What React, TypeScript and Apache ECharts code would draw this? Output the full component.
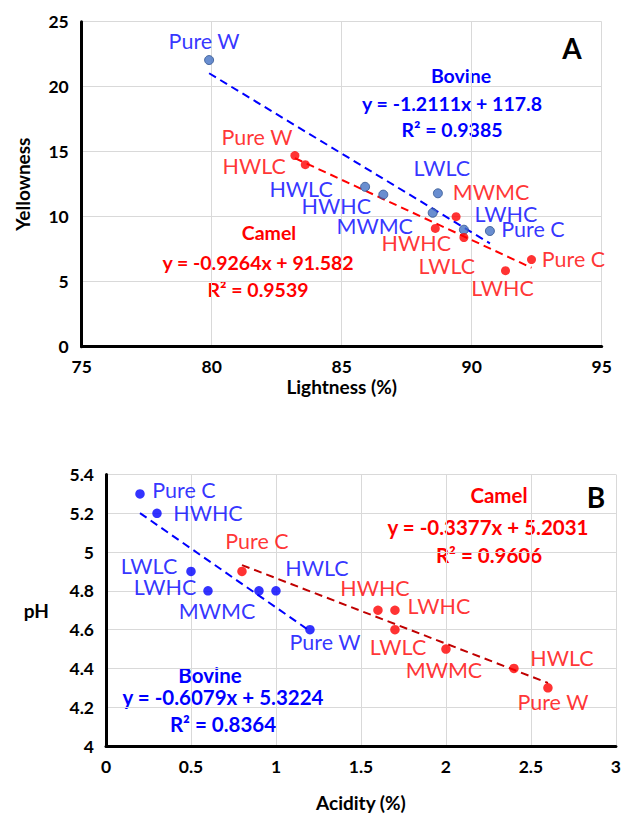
import React, { useEffect, useRef } from "react";
import * as echarts from "echarts";

// ---------- Data: chart A (Lightness vs Yellowness) ----------
const bovineANames = ["Pure W", "HWLC", "HWHC", "LWLC", "MWMC", "LWHC", "Pure C"];
const bovineAX = [79.9, 85.9, 86.6, 88.7, 88.5, 89.7, 90.7];
const bovineAY = [22.05, 12.3, 11.7, 11.8, 10.3, 9.0, 8.9];
const camelANames = ["Pure W", "HWLC", "MWMC", "HWHC", "LWLC", "Pure C", "LWHC"];
const camelAX = [83.2, 83.6, 89.4, 88.6, 89.7, 92.3, 91.3];
const camelAY = [14.7, 14.0, 10.0, 9.1, 8.4, 6.7, 5.85];
const trendA = { bovine: [-1.2111, 117.8], camel: [-0.9264, 91.582] };
const r2A = { bovine: 0.9385, camel: 0.9539 };

// ---------- Data: chart B (Acidity vs pH) ----------
const bovineBNames = ["Pure C", "HWHC", "LWLC", "LWHC", "MWMC", "HWLC", "Pure W"];
const bovineBX = [0.2, 0.3, 0.5, 0.6, 0.9, 1.0, 1.2];
const bovineBY = [5.3, 5.2, 4.9, 4.8, 4.8, 4.8, 4.6];
const camelBNames = ["Pure C", "HWHC", "LWHC", "LWLC", "MWMC", "HWLC", "Pure W"];
const camelBX = [0.8, 1.6, 1.7, 1.7, 2.0, 2.4, 2.6];
const camelBY = [4.9, 4.7, 4.7, 4.6, 4.5, 4.4, 4.3];
const trendB = { bovine: [-0.6079, 5.3224], camel: [-0.3377, 5.2031] };
const r2B = { bovine: 0.8364, camel: 0.9606 };

// ---------- Layout (label offsets in px, relative to the point) ----------
const offBovineA = [[-5, -19], [-64, 2], [-47, 11], [4, -25], [-58, 13], [42, -16], [43, -2]];
const offCamelA = [[-38, -19], [-51, 1], [35, -25], [-19, 15], [-17, 28], [42, -1], [-3, 17]];
const offBovineB = [[44, -4], [51, 0], [-42, -5], [-43, -4], [-42, 20], [41, -23], [15, 12]];
const offCamelB = [[15, -30], [-3, -22], [44, -4], [3, 17], [-2, 21], [48, -10], [5, 14]];

const BLUE = "#0000FF";
const RED = "#FF0000";
const FONT = "Lato";

function eqText(t: number[]) {
  const s = t[0];
  const b = t[1];
  return `y = ${s}x ${b >= 0 ? "+" : "-"} ${Math.abs(b)}`;
}

function pts(names: string[], xs: number[], ys: number[], offs: number[][]) {
  return names.map((n, i) => ({
    name: n,
    value: [xs[i], ys[i]],
    label: { offset: offs[i] },
  }));
}

function trend(xs: number[], t: number[]) {
  const lo = Math.min(...xs);
  const hi = Math.max(...xs);
  return [
    [lo, t[0] * lo + t[1]],
    [hi, t[0] * hi + t[1]],
  ];
}

export default function App() {
  const ref = useRef<HTMLDivElement>(null);
  useEffect(() => {
    if (!ref.current) return;
    const chart = echarts.init(ref.current, undefined, { renderer: "svg" });

    const tickLabel = { fontFamily: FONT, fontWeight: "bold" as const, fontSize: 17.5, color: "#000" };
    const axisLine = { show: true, lineStyle: { color: "#000", width: 3 } };
    const split = { show: true, lineStyle: { color: "#d9d9d9", width: 1 } };
    const nameStyle = { fontFamily: FONT, fontWeight: "bold" as const, fontSize: 19, color: "#000" };

    const scatterLabel = (color: string) => ({
      show: true,
      position: "inside" as const,
      formatter: "{b}",
      color,
      fontFamily: FONT,
      fontSize: 21.5,
      align: "center" as const,
      verticalAlign: "middle" as const,
    });

    const annot = (text: string, x: number, y: number, color: string, size = 19.5) => ({
      type: "text",
      x,
      y,
      style: {
        text,
        fill: color,
        font: `bold ${size}px ${FONT}`,
        textAlign: "center",
        textVerticalAlign: "middle",
        align: "center",
        verticalAlign: "middle",
      },
    });

    chart.setOption({
      animation: false,
      backgroundColor: "#fff",
      grid: [
        { left: 81.7, top: 21.7, width: 520, height: 325 },
        { left: 106, top: 474.5, width: 516, height: 271.5 },
      ],
      xAxis: [
        {
          gridIndex: 0,
          type: "value",
          min: 75,
          max: 95,
          interval: 5,
          axisLine,
          axisTick: { show: false },
          axisLabel: { ...tickLabel, margin: 11 },
          splitLine: split,
          name: "Lightness (%)",
          nameLocation: "middle",
          nameGap: 19,
          nameTextStyle: nameStyle,
        },
        {
          gridIndex: 1,
          type: "value",
          min: 0,
          max: 3,
          interval: 0.5,
          axisLine,
          axisTick: { show: false },
          axisLabel: { ...tickLabel, margin: 11 },
          splitLine: split,
          name: "Acidity (%)",
          nameLocation: "middle",
          nameGap: 47,
          nameTextStyle: nameStyle,
        },
      ],
      yAxis: [
        {
          gridIndex: 0,
          type: "value",
          min: 0,
          max: 25,
          interval: 5,
          axisLine,
          axisTick: { show: false },
          axisLabel: { ...tickLabel, margin: 13 },
          splitLine: split,
          name: "Yellowness",
          nameLocation: "middle",
          nameRotate: 90,
          nameGap: 50,
          nameTextStyle: nameStyle,
        },
        {
          gridIndex: 1,
          type: "value",
          min: 4,
          max: 5.4,
          interval: 0.2,
          axisLine,
          axisTick: { show: false },
          axisLabel: { ...tickLabel, margin: 12 },
          splitLine: split,
          name: "pH",
          nameLocation: "middle",
          nameRotate: 0,
          nameGap: 57,
          nameTextStyle: nameStyle,
        },
      ],
      series: [
        {
          type: "line",
          xAxisIndex: 0,
          yAxisIndex: 0,
          data: trend(bovineAX, trendA.bovine),
          symbol: "none",
          lineStyle: { color: BLUE, width: 2, type: [8, 5] },
          z: 1,
        },
        {
          type: "line",
          xAxisIndex: 0,
          yAxisIndex: 0,
          data: trend(camelAX, trendA.camel),
          symbol: "none",
          lineStyle: { color: RED, width: 2, type: [8, 5] },
          z: 1,
        },
        {
          type: "scatter",
          xAxisIndex: 0,
          yAxisIndex: 0,
          symbolSize: 9,
          itemStyle: { color: "#4472C4", borderColor: "#2F528F", borderWidth: 1 },
          label: scatterLabel(BLUE),
          data: pts(bovineANames, bovineAX, bovineAY, offBovineA),
          z: 3,
        },
        {
          type: "scatter",
          xAxisIndex: 0,
          yAxisIndex: 0,
          symbolSize: 9,
          itemStyle: { color: RED },
          label: scatterLabel(RED),
          data: pts(camelANames, camelAX, camelAY, offCamelA),
          z: 3,
        },
        {
          type: "line",
          xAxisIndex: 1,
          yAxisIndex: 1,
          data: trend(bovineBX, trendB.bovine),
          symbol: "none",
          lineStyle: { color: BLUE, width: 2, type: [8, 5] },
          z: 1,
        },
        {
          type: "line",
          xAxisIndex: 1,
          yAxisIndex: 1,
          data: trend(camelBX, trendB.camel),
          symbol: "none",
          lineStyle: { color: "#C00000", width: 2, type: [8, 5] },
          z: 1,
        },
        {
          type: "scatter",
          xAxisIndex: 1,
          yAxisIndex: 1,
          symbolSize: 9.5,
          itemStyle: { color: BLUE },
          label: scatterLabel(BLUE),
          data: pts(bovineBNames, bovineBX, bovineBY, offBovineB),
          z: 3,
        },
        {
          type: "scatter",
          xAxisIndex: 1,
          yAxisIndex: 1,
          symbolSize: 9.5,
          itemStyle: { color: RED },
          label: scatterLabel(RED),
          data: pts(camelBNames, camelBX, camelBY, offCamelB),
          z: 3,
        },
      ],
      graphic: [
        annot("A", 572, 48, "#000", 28),
        annot("Bovine", 461, 75, BLUE),
        annot(eqText(trendA.bovine), 452, 103, BLUE),
        annot(`R² = ${r2A.bovine}`, 452, 129, BLUE),
        annot("Camel", 269, 232, RED),
        annot(eqText(trendA.camel), 258, 262, RED),
        annot(`R² = ${r2A.camel}`, 258, 289, RED),
        annot("B", 596, 497, "#000", 28),
        annot("Camel", 499, 495, RED, 20.5),
        annot(eqText(trendB.camel), 488, 527, RED, 20.5),
        annot(`R² = ${r2B.camel}`, 489, 555, RED, 20.5),
        annot("Bovine", 210, 675, BLUE, 20.5),
        annot(eqText(trendB.bovine), 223, 697, BLUE, 20.5),
        annot(`R² = ${r2B.bovine}`, 223, 724, BLUE, 20.5),
      ],
    });
    return () => chart.dispose();
  }, []);
  return (
    <div
      ref={ref}
      style={{ position: "absolute", left: 0, top: 0, width: 624, height: 817, background: "#fff" }}
    />
  );
}
